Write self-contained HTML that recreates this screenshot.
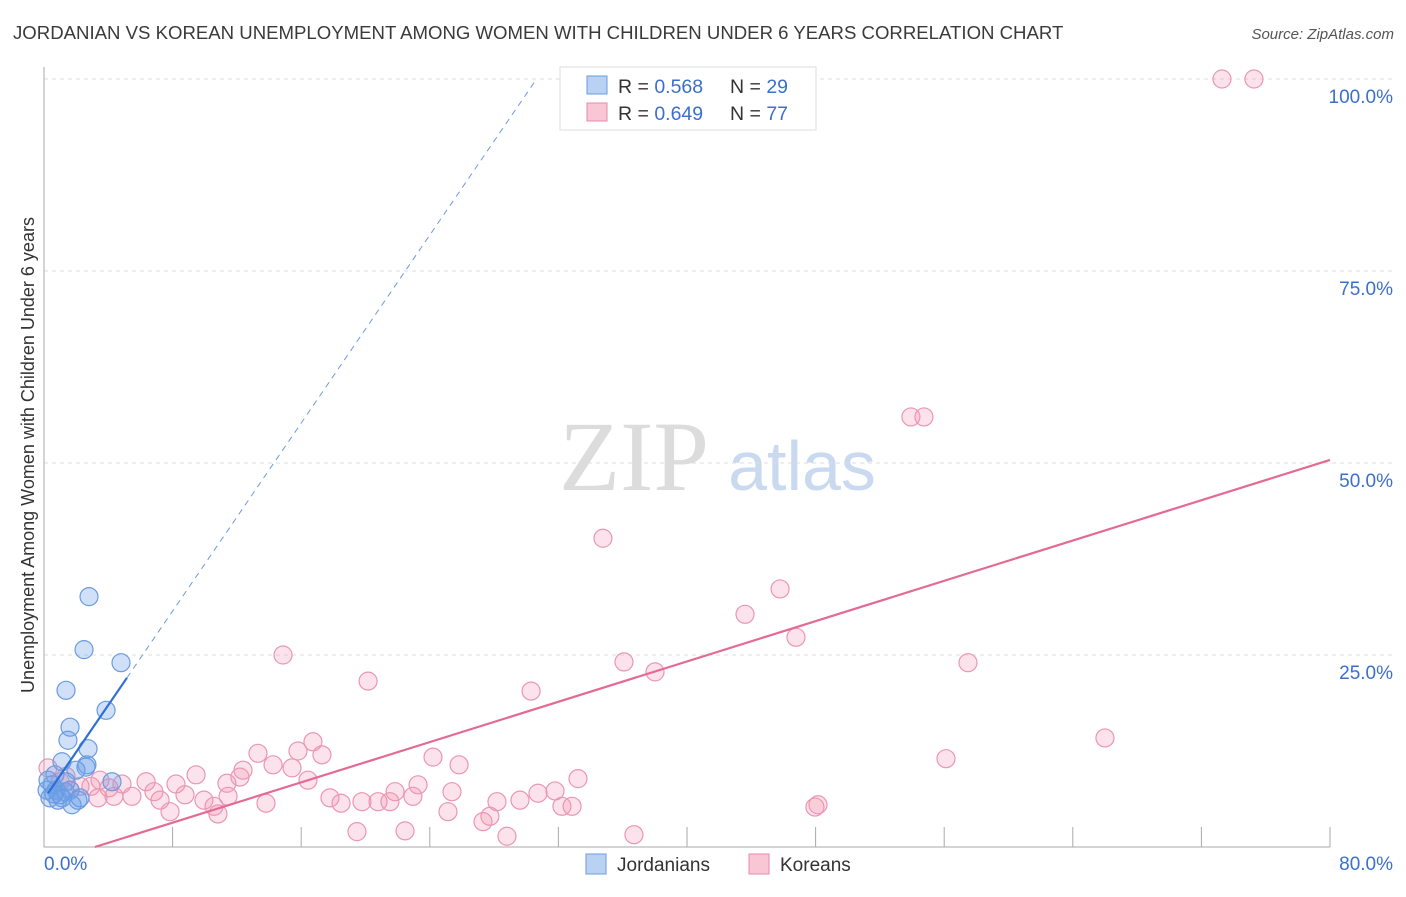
<!DOCTYPE html>
<html><head><meta charset="utf-8"><style>
body{margin:0;background:#fff;font-family:"Liberation Sans",sans-serif;}
</style></head><body>
<svg id="chart" width="1406" height="892" xmlns="http://www.w3.org/2000/svg" font-family="Liberation Sans, sans-serif">
<text x="13" y="39" font-size="18.6" fill="#3a3a3a">JORDANIAN VS KOREAN UNEMPLOYMENT AMONG WOMEN WITH CHILDREN UNDER 6 YEARS CORRELATION CHART</text>
<text x="1394" y="39" font-size="15" fill="#555" font-style="italic" text-anchor="end">Source: ZipAtlas.com</text>
<text transform="translate(34,455) rotate(-90)" font-size="18" fill="#333" text-anchor="middle">Unemployment Among Women with Children Under 6 years</text>
<g>
<text x="634" y="490" font-size="100" fill="#dcdcdc" font-family="Liberation Serif, serif" text-anchor="middle">ZIP</text>
<text x="802" y="490" font-size="70" fill="#c9daf0" text-anchor="middle">atlas</text>
</g>
<g id="grid"></g>
<g id="marks"></g>
<g>
<rect x="560" y="67" width="256" height="63" fill="#fff" stroke="#ddd"/>
<rect x="587" y="76" width="20" height="18" fill="#b9d2f3" stroke="#6b9be0"/>
<rect x="587" y="103" width="20" height="18" fill="#f9c6d5" stroke="#e88aa8"/>
<text x="618" y="93" font-size="19.5" fill="#333">R = <tspan fill="#3a6fd0">0.568</tspan></text>
<text x="730" y="93" font-size="19.5" fill="#333">N = <tspan fill="#3a6fd0">29</tspan></text>
<text x="618" y="120" font-size="19.5" fill="#333">R = <tspan fill="#3a6fd0">0.649</tspan></text>
<text x="730" y="120" font-size="19.5" fill="#333">N = <tspan fill="#3a6fd0">77</tspan></text>
</g>
<g>
<rect x="586" y="854" width="20" height="20" fill="#b9d2f3" stroke="#6b9be0"/>
<text x="617" y="871" font-size="19" fill="#333">Jordanians</text>
<rect x="749" y="854" width="20" height="20" fill="#f9c6d5" stroke="#e88aa8"/>
<text x="780" y="871" font-size="19" fill="#333">Koreans</text>
</g>
</svg>
<script>
const xTickLabels=["0.0%","80.0%"];
const yTicks=[25,50,75,100];
const yTickLabels=["25.0%","50.0%","75.0%","100.0%"];
const blueX=[2.80,2.49,4.79,1.37,3.86,1.62,1.49,2.74,2.67,2.61,1.99,1.12,4.23,0.25,0.5,0.75,1.0,1.31,1.62,0.37,0.87,1.74,2.11,1.12,0.68,0.19,1.37,0.62,2.24];
const blueY=[32.6,25.7,24.0,20.4,17.8,15.6,13.9,12.8,10.7,10.4,10.0,11.1,8.5,8.7,8.1,7.4,6.8,7.2,7.4,6.4,6.1,5.5,6.1,6.4,9.4,7.4,8.5,6.9,6.4];
const pinkPx=[[1222,79],[1254,79],[911,417],[924,417],[603,538],[780,589],[745,614],[796,637],[624,662],[968,663],[655,672],[283,655],[368,681],[531,691],[1105,738],[946,759],[313,742],[258,753],[433,757],[298,751],[322,755],[459,765],[273,765],[292,768],[243,770],[196,775],[240,777],[227,783],[308,780],[418,785],[578,779],[100,780],[122,784],[146,782],[176,784],[91,786],[109,788],[154,792],[132,796],[66,776],[80,786],[60,782],[185,795],[204,800],[160,800],[98,798],[114,796],[70,790],[228,796],[266,803],[330,798],[362,802],[378,802],[390,802],[395,792],[413,796],[452,792],[341,803],[497,802],[520,800],[538,793],[555,791],[562,806],[572,806],[448,812],[490,816],[483,822],[214,806],[218,814],[170,812],[357,832],[405,831],[507,836],[634,835],[815,807],[818,805],[48,768]];
const pinkX=pinkPx.map(p=>+((p[0]-44)/1286*80).toFixed(2));
const pinkY=pinkPx.map(p=>+((847-p[1])/768*100).toFixed(1));
const blueTrend=[3.06,6.24];
const pinkTrend=[0.656,-2.08];
const X=v=>44+v/80*1286, Y=v=>847-v/100*768;
const NS="http://www.w3.org/2000/svg";
function mk(tag,attrs,parent){const e=document.createElementNS(NS,tag);for(const k in attrs)e.setAttribute(k,attrs[k]);parent.appendChild(e);return e;}
const grid=document.getElementById('grid'), marks=document.getElementById('marks');
yTicks.forEach((t,i)=>{
 const l=mk('line',{x1:44,x2:1394,y1:Y(t),y2:Y(t),stroke:'#ddd','stroke-dasharray':'4,4'},grid);
 
 
 const tx=mk('text',{x:1393,y:Y(t)+24,'font-size':19,fill:'#3a6fd0','text-anchor':'end'},grid);
 tx.textContent=yTickLabels[i];
 
 
});
const ax=mk('path',{d:'M44,67V847H1330',stroke:'#aaa',fill:'none'},grid);


for(let i=1;i<=10;i++){const t=mk('line',{x1:X(i*8),x2:X(i*8),y1:827,y2:847,stroke:'#aaa'},grid);
 
 }
[[0,44,'start'],[80,1393,'end']].forEach((a,i)=>{const t=mk('text',{x:a[1],y:870,'font-size':19,fill:'#3a6fd0','text-anchor':a[2]},grid);t.textContent=xTickLabels[i];
 
 });
pinkX.forEach((x,i)=>{const c=mk('circle',{cx:X(x),cy:Y(pinkY[i]),r:9,fill:'rgba(244,150,180,0.28)',stroke:'#eb96b2','stroke-width':1.2},marks);
 
 });
blueX.forEach((x,i)=>{const c=mk('circle',{cx:X(x),cy:Y(blueY[i]),r:9,fill:'rgba(110,160,235,0.33)',stroke:'#6b9be0','stroke-width':1.2},marks);
 
 });
const px0=-pinkTrend[1]/pinkTrend[0];
const pl=mk('line',{x1:X(px0),y1:Y(0),x2:X(80),y2:Y(pinkTrend[0]*80+pinkTrend[1]),stroke:'#e46a96','stroke-width':2.2},marks);


const bl=mk('line',{x1:X(0.25),y1:Y(blueTrend[0]*0.25+blueTrend[1]),x2:X(5.16),y2:Y(blueTrend[0]*5.16+blueTrend[1]),stroke:'#2f6fd6','stroke-width':2.2},marks);


const xe=(100-blueTrend[1])/blueTrend[0];
const bd=mk('line',{x1:X(5.16),y1:Y(blueTrend[0]*5.16+blueTrend[1]),x2:X(xe),y2:Y(100),stroke:'#6b9be0','stroke-width':1,'stroke-dasharray':'6,5'},marks);


</script>
</body></html>
